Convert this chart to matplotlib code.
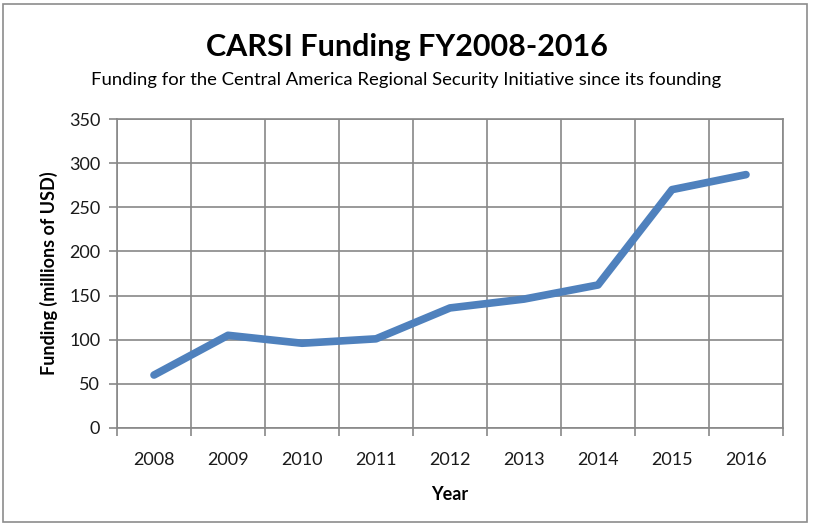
import numpy as np
import matplotlib.pyplot as plt
from matplotlib.patches import Rectangle

plt.rcParams['font.family'] = ['Lato', 'DejaVu Sans']

years = ["2008", "2009", "2010", "2011", "2012", "2013", "2014", "2015", "2016"]
funding = [60, 105, 96, 101, 136, 146, 162, 270, 287]

fig = plt.figure(figsize=(8.13, 5.26), dpi=100)
ax = fig.add_axes([117/813, 1-428/526, (783-117)/813, (428-119)/526])

x = np.arange(len(years))
ax.plot(x, funding, color="#4F81BD", linewidth=5.5, solid_capstyle="round",
        solid_joinstyle="round", zorder=3)

ax.set_xlim(-0.5, len(years) - 0.5)
ax.set_ylim(0, 350)
ax.set_yticks(np.arange(0, 351, 50))
ax.set_xticks(x)
ax.set_xticklabels(years)
ax.set_xticks(np.arange(-0.5, len(years), 1), minor=True)

grid_c = "#888888"
ax.grid(True, axis="y", color=grid_c, linewidth=1.2)
ax.grid(True, axis="x", which="minor", color=grid_c, linewidth=1.2)
ax.tick_params(axis="x", which="major", length=0, labelsize=13, pad=17, labelcolor="#1a1a1a")
ax.tick_params(axis="x", which="minor", length=6, color=grid_c, width=1.2)
ax.tick_params(axis="y", length=6, color=grid_c, width=1.2, labelsize=13, pad=6,
               labelcolor="#1a1a1a")
for s in ax.spines.values():
    s.set_color(grid_c)
    s.set_linewidth(1.2)
ax.set_axisbelow(True)

ax.set_xlabel("Year", fontsize=13, fontweight="bold", labelpad=13)
ax.set_ylabel("Funding (millions of USD)", fontsize=13, fontweight="bold", labelpad=8)

fig.text(0.5, 1-47/526, "CARSI Funding FY2008-2016", ha="center", va="center",
         fontsize=22, fontweight="bold")
fig.text(0.5, 1-80/526, "Funding for the Central America Regional Security Initiative since its founding",
         ha="center", va="center", fontsize=13.3)

fig.patches.append(Rectangle((3/813, 4/526), 804/813, 518/526, transform=fig.transFigure,
                             fill=False, edgecolor="#8c8c8c", linewidth=1.2))

fig.savefig("out.png", dpi=100)
